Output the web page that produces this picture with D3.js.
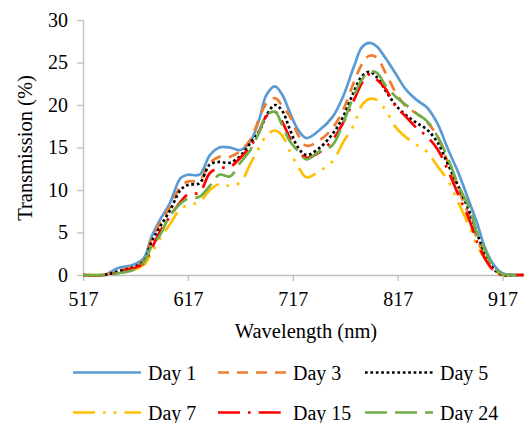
<!DOCTYPE html>
<html>
<head>
<script src="https://d3js.org/d3.v7.min.js"></script>
<style>
  body { margin: 0; background: #fff; }
  svg { display: block; }
  svg text { font-family: "Liberation Serif", "DejaVu Serif", serif !important; fill: #000; }
  .axis path, .axis line { stroke: #bfbfbf; stroke-width: 1.3; }
  .axis text { font-size: 20px; }
  .title { font-size: 20.5px; }
  .legend text { font-size: 20px; }
</style>
</head>
<body>
<div id="chart"></div>
<script>
// wavelength grid (nm) and transmission (%)
const wavelengths = [517, 537, 550, 565, 575, 582, 590, 600, 610, 617, 628, 638, 647, 657, 667, 677, 685, 692, 700, 707, 714, 722, 730, 742, 755, 765, 775, 783, 790, 797, 805, 815, 825, 835, 845, 855, 865, 875, 885, 893, 900, 908, 917, 925, 937];
const day1  = [0, 0, 0.8, 1.2, 2.0, 4.4, 6.4, 8.5, 11.4, 11.8, 11.8, 14.1, 15.0, 15.0, 14.7, 15.8, 18.3, 21.2, 22.2, 21.2, 19.2, 17.1, 16.1, 17.0, 18.6, 21.0, 24.4, 26.8, 27.3, 26.9, 25.6, 23.7, 21.8, 20.6, 19.7, 17.8, 14.8, 12.0, 8.7, 6.0, 3.3, 1.3, 0.2, 0, 0];
const day3  = [0, 0, 0.5, 1.0, 1.7, 4.1, 6.0, 8.0, 10.4, 11.0, 11.1, 13.2, 13.9, 13.9, 14.6, 16.0, 18.4, 20.2, 20.8, 19.9, 18.7, 16.5, 15.2, 15.8, 17.3, 19.4, 22.6, 24.8, 25.8, 25.6, 23.9, 21.5, 19.8, 19.0, 18.0, 16.3, 13.2, 10.0, 7.0, 4.2, 2.2, 0.6, 0, 0, 0];
const day5  = [0, 0, 0.4, 0.9, 1.6, 3.8, 5.6, 7.6, 10.0, 10.6, 10.8, 13.0, 13.3, 13.2, 14.0, 15.6, 16.9, 18.8, 20.0, 19.3, 17.2, 15.0, 14.1, 14.9, 16.6, 18.6, 21.5, 23.4, 23.9, 23.3, 21.8, 20.0, 18.8, 17.9, 17.1, 15.6, 13.0, 10.4, 7.6, 4.8, 2.6, 0.8, 0, 0, 0];
const day7  = [0, 0, 0.2, 0.6, 1.2, 2.5, 4.2, 6.0, 7.8, 8.2, 8.6, 10.0, 10.7, 10.5, 10.9, 13.2, 15.0, 16.4, 17.0, 16.4, 14.6, 12.8, 11.5, 12.2, 13.4, 15.6, 17.6, 20.0, 20.7, 20.6, 19.5, 17.4, 16.2, 15.3, 14.5, 12.8, 11.1, 8.5, 5.8, 3.4, 2.0, 0.6, 0, 0, 0];
const day15 = [0, 0, 0.3, 0.8, 1.4, 3.0, 5.0, 6.9, 8.6, 9.5, 9.7, 12.0, 12.6, 12.7, 13.8, 15.2, 16.9, 18.7, 19.2, 18.0, 16.2, 14.6, 13.8, 14.4, 15.9, 17.9, 20.5, 22.6, 23.6, 23.0, 22.0, 19.9, 18.6, 17.3, 16.3, 14.8, 12.3, 9.4, 6.6, 3.8, 2.0, 0.6, 0, 0, 0];
const day24 = [0, 0, 0.2, 0.6, 1.5, 3.3, 4.6, 7.0, 8.4, 9.0, 9.2, 10.5, 11.8, 11.6, 13.2, 14.8, 16.8, 18.8, 19.2, 17.6, 15.8, 14.6, 13.6, 14.5, 15.3, 17.9, 21.0, 23.0, 23.9, 23.8, 22.4, 21.0, 20.0, 19.0, 18.1, 16.3, 13.7, 10.5, 8.0, 4.8, 3.0, 1.0, 0.1, 0, 0];

const seriesNames = ["Day 1", "Day 3", "Day 5", "Day 7", "Day 15", "Day 24"];
const seriesValues = [day1, day3, day5, day7, day15, day24];
const seriesColors = ["#5b9bd5", "#ed7d31", "#000000", "#ffc000", "#ff0000", "#70ad47"];
const seriesDashes = [null, "11 8", "2.7 2.7", "22 8 2.7 8 2.7 8", "22 8 2.7 8", "22 8"];

const xTicks = [517, 617, 717, 817, 917];
const yTicks = [0, 5, 10, 15, 20, 25, 30];

const width = 524, height = 423;
const lw = 2.7;

const svg = d3.select("#chart").append("svg")
    .attr("width", width)
    .attr("height", height);

const x = d3.scaleLinear().domain([517, 937]).range([83, 523.5]);
const y = d3.scaleLinear().domain([0, 30]).range([275, 20]);

// axes
svg.append("g")
    .attr("class", "axis")
    .attr("transform", "translate(0,275)")
    .call(d3.axisBottom(x).tickValues(xTicks).tickSize(6).tickSizeOuter(0).tickPadding(11).tickFormat(d3.format("d")));

svg.append("g")
    .attr("class", "axis")
    .attr("transform", "translate(83,0)")
    .call(d3.axisLeft(y).tickValues(yTicks).tickSize(6).tickSizeOuter(0).tickPadding(9));

// lines
const line = d3.line()
    .x((d, i) => x(wavelengths[i]))
    .y(d => y(Math.max(0, d)))
    .curve(d3.curveCatmullRom.alpha(0.5));

seriesValues.forEach((vals, i) => {
    svg.append("path")
        .datum(vals)
        .attr("fill", "none")
        .attr("stroke", seriesColors[i])
        .attr("stroke-width", lw)
        .attr("stroke-dasharray", seriesDashes[i])
        .attr("stroke-linejoin", "round")
        .attr("d", line);
});

// axis titles
svg.append("text")
    .attr("class", "title")
    .attr("x", 306)
    .attr("y", 338)
    .attr("text-anchor", "middle")
    .text("Wavelength (nm)");

svg.append("text")
    .attr("class", "title")
    .attr("transform", "translate(25,148) rotate(-90)")
    .attr("text-anchor", "middle")
    .attr("dy", "0.35em")
    .text("Transmission (%)");

// legend
const colX = [73, 218, 365];
const rowY = [372.5, 412.5];
const legend = svg.append("g").attr("class", "legend");

seriesNames.forEach((name, i) => {
    const lx = colX[i % 3], ly = rowY[Math.floor(i / 3)];
    legend.append("line")
        .attr("x1", lx).attr("x2", lx + 68)
        .attr("y1", ly).attr("y2", ly)
        .attr("stroke", seriesColors[i])
        .attr("stroke-width", lw)
        .attr("stroke-dasharray", seriesDashes[i]);
    legend.append("text")
        .attr("x", lx + 75)
        .attr("y", ly)
        .attr("dy", "0.35em")
        .text(name);
});
</script>
</body>
</html>
